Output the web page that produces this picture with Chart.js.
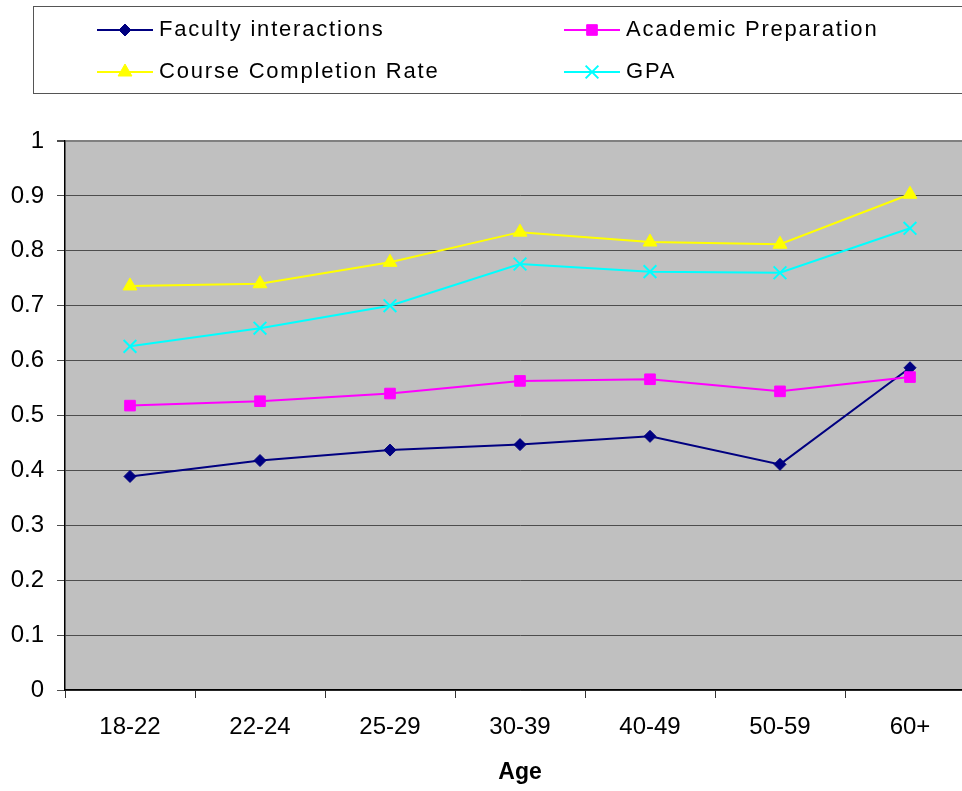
<!DOCTYPE html>
<html>
<head>
<meta charset="utf-8">
<script src="https://cdn.jsdelivr.net/npm/chart.js@4.4.1/dist/chart.umd.min.js"></script>
<style>
  html, body { margin: 0; padding: 0; background: #fff; overflow: hidden; }
  #frame { width: 962px; height: 791px; overflow: hidden; position: relative; }
  #wrap { width: 976px; height: 791px; position: absolute; left: 0; top: 0; }
  canvas { display: block; }
</style>
</head>
<body>
<div id="frame"><div id="wrap">
<canvas id="c" width="976" height="791" style="width:976px;height:791px"></canvas>
</div></div>
<script>
// Age bands along the category axis
const ageGroups = ['18-22', '22-24', '25-29', '30-39', '40-49', '50-59', '60+'];

// Series values per age band (share of students, 0..1)
const facultyInteractions  = [0.389, 0.418, 0.437, 0.447, 0.462, 0.411, 0.587];
const academicPreparation  = [0.518, 0.526, 0.540, 0.563, 0.566, 0.544, 0.570];
const courseCompletionRate = [0.736, 0.740, 0.779, 0.834, 0.816, 0.812, 0.903];
const gpa                  = [0.626, 0.659, 0.700, 0.776, 0.762, 0.760, 0.841];

const seriesNames = ['Faculty interactions', 'Academic Preparation', 'Course Completion Rate', 'GPA'];
const xAxisTitle = 'Age';
const yMin = 0, yMax = 1, yStep = 0.1;

const FONT = "'Liberation Sans', Arial, Helvetica, sans-serif";

// Grey plot area behind the grid
const plotBackground = {
  id: 'plotBackground',
  beforeDraw(chart) {
    const { ctx, chartArea: a } = chart;
    ctx.save();
    ctx.fillStyle = '#ffffff';
    ctx.fillRect(0, 0, chart.width, chart.height);
    ctx.fillStyle = '#c0c0c0';
    ctx.fillRect(a.left, a.top, a.right - a.left, a.bottom - a.top);
    ctx.restore();
  }
};

// Boxed two-column legend above the plot
const boxedLegend = {
  id: 'boxedLegend',
  afterDraw(chart) {
    const ctx = chart.ctx;
    const cols = [125, 592];
    const rows = [30, 72];
    ctx.save();
    ctx.strokeStyle = '#555';
    ctx.lineWidth = 1;
    ctx.strokeRect(33.5, 6.5, 1000, 87);
    chart.data.datasets.forEach((ds, i) => {
      const cx = cols[i % 2];
      const cy = rows[Math.floor(i / 2)];
      ctx.strokeStyle = ds.borderColor;
      ctx.lineWidth = 2;
      ctx.beginPath();
      ctx.moveTo(cx - 28, cy);
      ctx.lineTo(cx + 28, cy);
      ctx.stroke();
      ctx.fillStyle = ds.pointBackgroundColor;
      ctx.strokeStyle = ds.pointBorderColor;
      ctx.lineWidth = ds.pointBorderWidth;
      Chart.helpers.drawPoint(ctx, {
        pointStyle: ds.pointStyle,
        radius: ds.pointRadius,
        rotation: 0,
        borderWidth: ds.pointBorderWidth
      }, cx, cy);
      ctx.fillStyle = '#000';
      ctx.font = '22px ' + FONT;
      ctx.textBaseline = 'alphabetic';
      ctx.textAlign = 'left';
      if ('letterSpacing' in ctx) ctx.letterSpacing = '1.8px';
      ctx.fillText(ds.label, cx + 34, cy + 6);
      if ('letterSpacing' in ctx) ctx.letterSpacing = '0px';
    });
    ctx.restore();
  }
};

function series(label, data, color, style, radius, borderWidth, order) {
  return {
    label, data, order,
    borderColor: color,
    backgroundColor: color,
    borderWidth: 2,
    pointStyle: style,
    pointRadius: radius,
    pointHoverRadius: radius,
    pointBackgroundColor: color,
    pointBorderColor: color,
    pointBorderWidth: borderWidth,
    tension: 0,
    fill: false,
    clip: false
  };
}

new Chart(document.getElementById('c'), {
  type: 'line',
  data: {
    labels: ageGroups,
    datasets: [
      series(seriesNames[0], facultyInteractions,  '#000080', 'rectRot',  6,   1, 4),
      series(seriesNames[1], academicPreparation,  '#ff00ff', 'rect',     7.5, 1, 3),
      series(seriesNames[2], courseCompletionRate, '#ffff00', 'triangle', 8,   1, 2),
      series(seriesNames[3], gpa,                  '#00ffff', 'crossRot', 9,   2, 1)
    ]
  },
  options: {
    responsive: false,
    animation: false,
    devicePixelRatio: 1,
    layout: { autoPadding: false, padding: { top: 141, left: 0, right: 1, bottom: 0 } },
    plugins: {
      legend: { display: false },
      tooltip: { enabled: false }
    },
    scales: {
      x: {
        type: 'category',
        offset: true,
        afterFit(scale) {
          scale.height = 101;
          scale.paddingLeft = 0;
          scale.paddingRight = 0;
        },
        grid: {
          offset: true,
          drawOnChartArea: false,
          drawTicks: true,
          tickLength: 8,
          color: '#333'
        },
        border: { display: true, color: '#000', width: 1.5 },
        ticks: {
          color: '#000',
          padding: 15,
          maxRotation: 0,
          font: { family: FONT, size: 24 }
        },
        title: {
          display: true,
          text: xAxisTitle,
          color: '#000',
          font: { family: FONT, size: 23, weight: 'bold' },
          padding: { top: 0, bottom: 5 }
        }
      },
      y: {
        min: yMin,
        max: yMax,
        afterFit(scale) {
          scale.width = 65;
          scale.paddingTop = 0;
          scale.paddingBottom = 0;
        },
        grid: {
          color: (c) => (c.tick && c.tick.value === yMax) ? '#808080' : '#4d4d4d',
          lineWidth: (c) => (c.tick && c.tick.value === yMax) ? 2 : 1,
          tickColor: '#4d4d4d',
          tickLength: 8,
          drawTicks: true
        },
        border: { display: true, color: '#000', width: 1.5 },
        ticks: {
          stepSize: yStep,
          color: '#000',
          padding: 13,
          font: { family: FONT, size: 24 },
          callback: (v) => String(Math.round(v * 10) / 10)
        }
      }
    }
  },
  plugins: [plotBackground, boxedLegend]
});
</script>
</body>
</html>
